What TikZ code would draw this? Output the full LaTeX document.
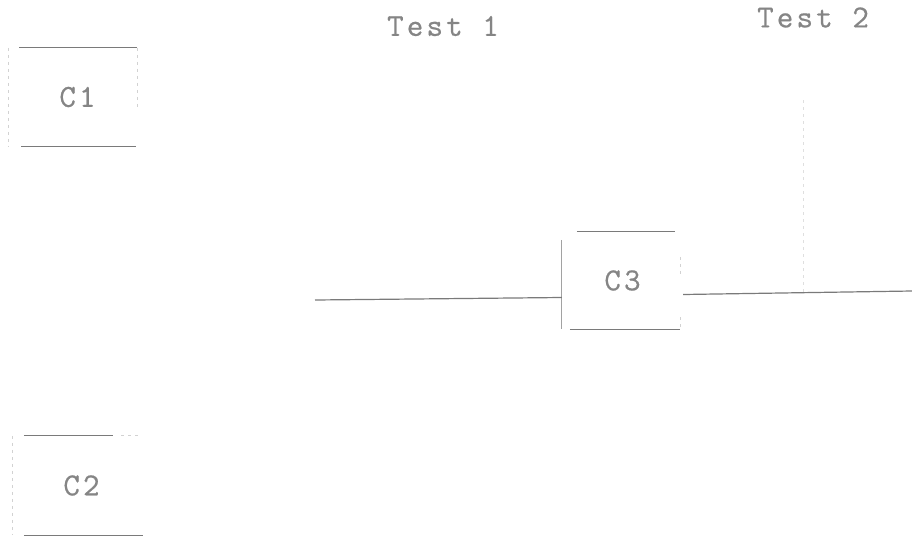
\documentclass[tikz,border=0pt]{standalone}
\usepackage{fontspec}
\setmonofont{Latin Modern Mono}[LetterSpace=10,FakeBold=0.6]
\definecolor{ink}{HTML}{7A7A7A}
\definecolor{inktext}{HTML}{858585}
\definecolor{faint}{HTML}{D2D2D2}
\begin{document}
\begin{tikzpicture}[x=1pt,y=-1pt,
  label text/.style={inner sep=0pt,text=inktext,font=\ttfamily\fontsize{32}{33}\selectfont},
  box/.style={label text},
  title/.style={label text},
  rule/.style={draw=ink,line width=1.3pt},
  side/.style={draw=faint,line width=1pt,dash pattern=on 3pt off 4pt},
  wire/.style={draw=ink,line width=1.2pt}]
\useasboundingbox (0,0) rectangle (912,538);

% column headings
\node[title] (t1) at (443,26) {Test 1};
\node[title] (t2) at (813,17.5) {Test 2};

% boxes: strong top/bottom rules, faint sides
\node[box,minimum width=129pt,minimum height=98pt] (c1) at (73,97) {\hspace*{9pt}C1};
\draw[rule] ([xshift=11pt]c1.north west) -- ([xshift=-1pt]c1.north east);
\draw[rule] ([xshift=13pt]c1.south west) -- ([xshift=-2pt]c1.south east);
\draw[side] (c1.north west) -- (c1.south west);
\draw[side] (c1.north east) -- ([yshift=-60pt]c1.north east);

\node[box,minimum width=130pt,minimum height=99pt] (c2) at (78,485.5) {\hspace*{7pt}C2};
\draw[rule] ([xshift=11pt]c2.north west) -- ([xshift=-30pt]c2.north east);
\draw[side] ([xshift=-22pt]c2.north east) -- ([xshift=-3pt]c2.north east);
\draw[rule] ([xshift=11pt]c2.south west) -- (c2.south east);
\draw[side] (c2.north west) -- (c2.south west);

\node[box,minimum width=118pt,minimum height=97pt] (c3) at (621,280.5) {\hspace*{3pt}C3};
\draw[rule] ([xshift=15pt]c3.north west) -- ([xshift=-5pt]c3.north east);
\draw[rule] ([xshift=8pt]c3.south west) -- (c3.south east);
\draw[draw=ink!70,line width=1.1pt] ([yshift=-8pt]c3.north west) -- (c3.south west);
\draw[side] ([yshift=-25pt]c3.north east) -- ([yshift=-45pt]c3.north east);
\draw[side] ([yshift=12pt]c3.south east) -- (c3.south east);

% faint vertical guide under Test 2
\coordinate (g1) at (803,100);
\coordinate (g2) at (803,292);
\draw[side,draw=faint!70] (g1) -- (g2);

% connectors into and out of C3
\coordinate (inL) at (315,300);
\coordinate (outR) at (912,291);
\draw[wire] (inL) -- ([yshift=-17pt]c3.west);
\draw[wire] ([yshift=-14pt,xshift=3pt]c3.east) -- (outR);
\end{tikzpicture}
\end{document}
